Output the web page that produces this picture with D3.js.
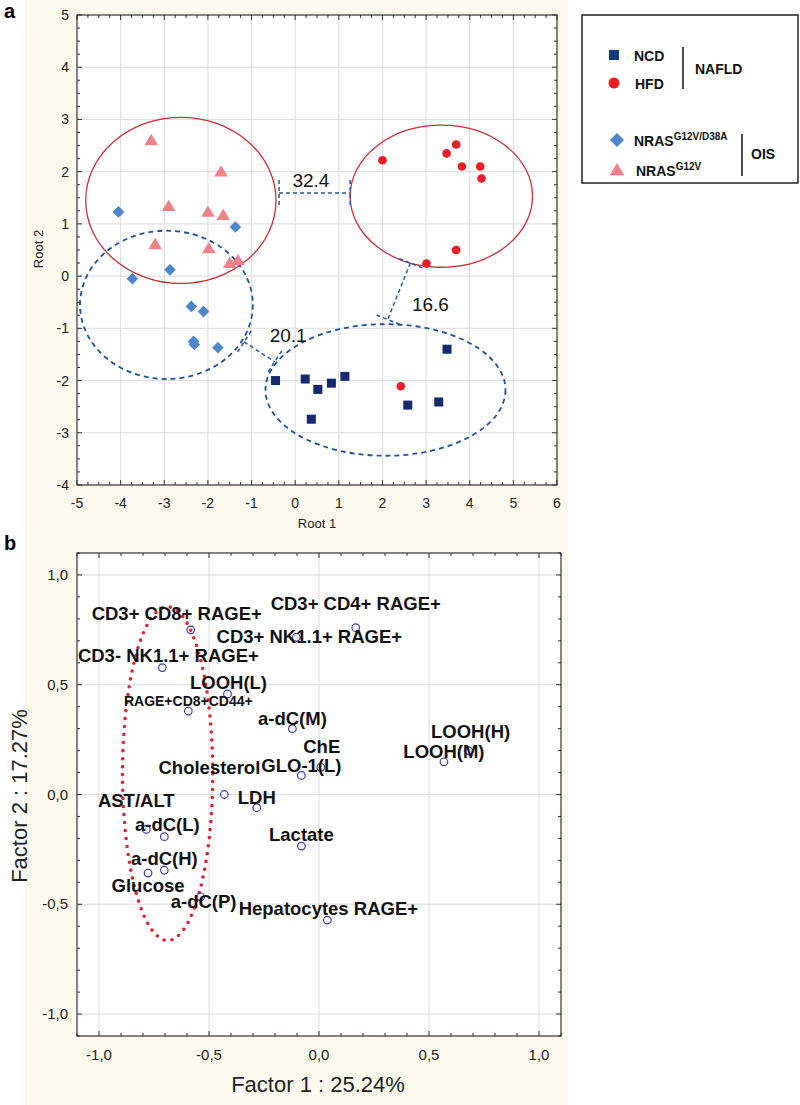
<!DOCTYPE html>
<html><head><meta charset="utf-8">
<script src="https://cdn.jsdelivr.net/npm/d3@7"></script>
<style>body{margin:0;background:#fff} svg{display:block} text{font-family:"Liberation Sans",Arial,sans-serif}</style>
</head><body><svg id="c" width="800" height="1105"></svg>
<script>
// ---------- Panel a data ----------
const ncdRoot1 = [-0.45, 0.23, 0.52, 0.83, 1.14, 0.37, 3.48, 2.58, 3.29];
const ncdRoot2 = [-2.00, -1.97, -2.17, -2.05, -1.92, -2.74, -1.40, -2.47, -2.41];
const hfdRoot1 = [2.00, 3.47, 3.69, 3.82, 4.24, 4.27, 3.69, 3.01, 2.42];
const hfdRoot2 = [2.22, 2.35, 2.52, 2.10, 2.10, 1.87, 0.50, 0.24, -2.11];
const d38aRoot1 = [-4.05, -1.37, -2.87, -3.73, -2.38, -2.10, -2.33, -2.31, -1.77];
const d38aRoot2 = [1.23, 0.94, 0.12, -0.05, -0.58, -0.68, -1.25, -1.31, -1.37];
const g12vRoot1 = [-3.30, -1.70, -2.90, -2.00, -1.65, -3.21, -1.98, -1.50, -1.31];
const g12vRoot2 = [2.60, 2.00, 1.34, 1.23, 1.17, 0.61, 0.53, 0.25, 0.30];

const ellipseGroups = ["NRAS G12V", "HFD", "NRAS G12V/D38A", "NCD"];
const ellipseCx = [-2.62, 3.35, -2.95, 2.07];
const ellipseCy = [1.45, 1.53, -0.55, -2.18];
const ellipseRx = [2.18, 2.09, 1.98, 2.75];
const ellipseRy = [1.59, 1.36, 1.42, 1.26];

const distLabels = ["32.4", "20.1", "16.6"];
const distFrom = [[-0.37, 1.59], [-1.17, -1.26], [2.64, 0.25]];
const distTo = [[1.26, 1.59], [-0.47, -1.64], [2.12, -0.83]];
const distLabelAt = [[0.36, 1.71], [-0.16, -1.27], [3.10, -0.66]];

const aTicksX = [-5, -4, -3, -2, -1, 0, 1, 2, 3, 4, 5, 6];
const aTicksY = [-4, -3, -2, -1, 0, 1, 2, 3, 4, 5];

// ---------- Panel b data ----------
const varNames = ["CD3+ CD8+ RAGE+", "CD3+ CD4+ RAGE+", "CD3+ NK1.1+ RAGE+", "CD3- NK1.1+ RAGE+", "LOOH(L)", "RAGE+CD8+CD44+", "a-dC(M)", "LOOH(H)", "LOOH(M)", "ChE", "Cholesterol", "GLO-1(L)", "LDH", "AST/ALT", "a-dC(L)", "Lactate", "a-dC(H)", "Glucose", "a-dC(P)", "Hepatocytes RAGE+"];
const factor1 = [-0.583, 0.167, -0.103, -0.712, -0.416, -0.594, -0.121, 0.680, 0.568, 0.008, -0.430, -0.080, -0.283, -0.785, -0.703, -0.080, -0.703, -0.777, -0.538, 0.038];
const factor2 = [0.750, 0.760, 0.716, 0.578, 0.458, 0.380, 0.300, 0.200, 0.149, 0.124, 0.000, 0.087, -0.060, -0.159, -0.192, -0.235, -0.345, -0.358, -0.466, -0.572];
const bTicks = [-1, -0.5, 0, 0.5, 1];
const bTickLabels = ["-1,0", "-0,5", "0,0", "0,5", "1,0"];
const clusterEllipse = {cx: -0.688, cy: 0.095, rx: 0.205, ry: 0.76};

// label layout (pixel offsets from each point: dx, dy of text centre / baseline)
const labelOffsets = [[-14, -10], [0, -18], [13, 6], [6, -6], [1, -5], [0, -5], [0, -4], [2, -13], [0, -4], [1, -14], [-15, -21], [0, -3], [0, -4], [-10, -22], [3, -6], [0, -5], [0, -5], [0, 19], [3, 11], [1, -5]];

const svg = d3.select("#c");
svg.append("rect").attr("x", 25).attr("y", 0).attr("width", 543).attr("height", 1105).attr("fill", "#fdf9ee");

// ================= PANEL A =================
const ax = d3.scaleLinear().domain([-5, 6]).range([77, 557]);
const ay = d3.scaleLinear().domain([-4, 5]).range([485, 15]);
const ga = svg.append("g");
ga.append("rect").attr("x", ax(-5)).attr("y", ay(5)).attr("width", ax(6) - ax(-5)).attr("height", ay(-4) - ay(5)).attr("fill", "#fff");
ga.selectAll(".gx").data(aTicksX.slice(1, -1)).enter().append("line")
  .attr("x1", d => ax(d)).attr("x2", d => ax(d)).attr("y1", ay(5)).attr("y2", ay(-4))
  .attr("stroke", "#dcdcdc").attr("stroke-width", 1);
ga.selectAll(".gy").data(aTicksY.slice(1, -1)).enter().append("line")
  .attr("y1", d => ay(d)).attr("y2", d => ay(d)).attr("x1", ax(-5)).attr("x2", ax(6))
  .attr("stroke", "#dcdcdc").attr("stroke-width", 1);

function frameTicks(g, xs, ys, xMajor, yMajor, xStep, yStep) {
  const [x0, x1] = xs.domain(), [y0, y1] = ys.domain();
  const mx = d3.range(Math.round((x1 - x0) / xStep) + 1).map(i => x0 + i * xStep);
  const my = d3.range(Math.round((y1 - y0) / yStep) + 1).map(i => y0 + i * yStep);
  const isMajor = (v, arr) => arr.some(a => Math.abs(a - v) < 1e-6);
  mx.forEach(v => {
    const L = isMajor(v, xMajor) ? 5 : 3;
    g.append("line").attr("x1", xs(v)).attr("x2", xs(v)).attr("y1", ys(y0)).attr("y2", ys(y0) - L).attr("stroke", "#333");
    g.append("line").attr("x1", xs(v)).attr("x2", xs(v)).attr("y1", ys(y1)).attr("y2", ys(y1) + L).attr("stroke", "#333");
  });
  my.forEach(v => {
    const L = isMajor(v, yMajor) ? 5 : 3;
    g.append("line").attr("y1", ys(v)).attr("y2", ys(v)).attr("x1", xs(x0)).attr("x2", xs(x0) + L).attr("stroke", "#333");
    g.append("line").attr("y1", ys(v)).attr("y2", ys(v)).attr("x1", xs(x1)).attr("x2", xs(x1) - L).attr("stroke", "#333");
  });
  g.append("rect").attr("x", xs(x0)).attr("y", ys(y1)).attr("width", xs(x1) - xs(x0)).attr("height", ys(y0) - ys(y1))
    .attr("fill", "none").attr("stroke", "#333").attr("stroke-width", 1.2);
}

const ellStyle = [
  {stroke: "#cc2f35", dash: null, w: 1.3},
  {stroke: "#cc2f35", dash: null, w: 1.3},
  {stroke: "#1f4e9c", dash: "5,4", w: 1.8},
  {stroke: "#1f4e9c", dash: "5,4", w: 1.8}
];
ellipseGroups.forEach((g, i) => {
  ga.append("ellipse")
    .attr("cx", ax(ellipseCx[i])).attr("cy", ay(ellipseCy[i]))
    .attr("rx", ax(ellipseCx[i] + ellipseRx[i]) - ax(ellipseCx[i]))
    .attr("ry", ay(ellipseCy[i]) - ay(ellipseCy[i] + ellipseRy[i]))
    .attr("fill", "none").attr("stroke", ellStyle[i].stroke).attr("stroke-width", ellStyle[i].w)
    .attr("stroke-dasharray", ellStyle[i].dash);
});

distLabels.forEach((lab, i) => {
  const p1 = [ax(distFrom[i][0]), ay(distFrom[i][1])];
  const p2 = [ax(distTo[i][0]), ay(distTo[i][1])];
  const dx = p2[0] - p1[0], dy = p2[1] - p1[1], len = Math.hypot(dx, dy);
  const nx = -dy / len, ny = dx / len, c = 13;
  const st = {stroke: "#2a55a3", "stroke-width": 1.5, "stroke-dasharray": "4,3", fill: "none"};
  [[p1, p2], [[p1[0] - nx * c, p1[1] - ny * c], [p1[0] + nx * c, p1[1] + ny * c]], [[p2[0] - nx * c, p2[1] - ny * c], [p2[0] + nx * c, p2[1] + ny * c]]]
    .forEach(seg => {
      const l = ga.append("line").attr("x1", seg[0][0]).attr("y1", seg[0][1]).attr("x2", seg[1][0]).attr("y2", seg[1][1]);
      Object.entries(st).forEach(([k, v]) => l.attr(k, v));
    });
  ga.append("text").attr("x", ax(distLabelAt[i][0])).attr("y", ay(distLabelAt[i][1]))
    .attr("text-anchor", "middle").attr("font-size", 19).attr("fill", "#111").text(lab);
});

const sq = 9;
ga.selectAll(".ncd").data(ncdRoot1).enter().append("rect")
  .attr("x", d => ax(d) - sq / 2).attr("y", (d, i) => ay(ncdRoot2[i]) - sq / 2)
  .attr("width", sq).attr("height", sq).attr("fill", "#152a6e");
ga.selectAll(".hfd").data(hfdRoot1).enter().append("circle")
  .attr("cx", d => ax(d)).attr("cy", (d, i) => ay(hfdRoot2[i])).attr("r", 4.3).attr("fill", "#ea1c24");
const diamond = (cx, cy, r) => `M${cx},${cy - r}L${cx + r},${cy}L${cx},${cy + r}L${cx - r},${cy}Z`;
const tri = (cx, cy, r) => `M${cx},${cy - r}L${cx + r * 1.05},${cy + r * 0.75}L${cx - r * 1.05},${cy + r * 0.75}Z`;
ga.selectAll(".d38").data(d38aRoot1).enter().append("path")
  .attr("d", (d, i) => diamond(ax(d), ay(d38aRoot2[i]), 5.8)).attr("fill", "#4d87c9");
ga.selectAll(".g12").data(g12vRoot1).enter().append("path")
  .attr("d", (d, i) => tri(ax(d), ay(g12vRoot2[i]), 6.5)).attr("fill", "#f2818a");

frameTicks(ga, ax, ay, aTicksX, aTicksY, 0.25, 0.25);

ga.selectAll(".xl").data(aTicksX).enter().append("text")
  .attr("x", d => ax(d)).attr("y", 508).attr("text-anchor", "middle").attr("font-size", 14).attr("fill", "#222").text(d => d);
ga.selectAll(".yl").data(aTicksY).enter().append("text")
  .attr("x", 69).attr("y", d => ay(d) + 5).attr("text-anchor", "end").attr("font-size", 14).attr("fill", "#222").text(d => d);
ga.append("text").attr("x", 317).attr("y", 528).attr("text-anchor", "middle").attr("font-size", 13).attr("fill", "#222").text("Root 1");
ga.append("text").attr("transform", "translate(43,249) rotate(-90)").attr("text-anchor", "middle").attr("font-size", 13).attr("fill", "#222").text("Root 2");
svg.append("text").attr("x", 4).attr("y", 18).attr("font-size", 20).attr("font-weight", "bold").text("a");

// legend
const lg = svg.append("g");
lg.append("rect").attr("x", 582).attr("y", 15).attr("width", 216).attr("height", 168).attr("fill", "#fff").attr("stroke", "#222").attr("stroke-width", 1.5);
lg.append("rect").attr("x", 609).attr("y", 50).attr("width", 10).attr("height", 10).attr("fill", "#153a7a");
lg.append("circle").attr("cx", 614).attr("cy", 83).attr("r", 5.5).attr("fill", "#ea1c24");
lg.append("path").attr("d", diamond(617, 140, 7)).attr("fill", "#4d87c9");
lg.append("path").attr("d", tri(617, 170, 7)).attr("fill", "#f2818a");
const lt = (x, y, t) => lg.append("text").attr("x", x).attr("y", y).attr("font-size", 14).attr("font-weight", "bold").attr("fill", "#111").text(t);
lt(634, 61, "NCD");
lt(635, 89, "HFD");
lt(695, 74, "NAFLD");
lt(751, 159, "OIS");
const n1 = lt(634, 146, "NRAS");
n1.append("tspan").attr("font-size", 10).attr("dy", -6).text("G12V/D38A");
const n2 = lt(636, 176, "NRAS");
n2.append("tspan").attr("font-size", 10).attr("dy", -6).text("G12V");
lg.append("line").attr("x1", 683).attr("x2", 683).attr("y1", 47).attr("y2", 89).attr("stroke", "#111").attr("stroke-width", 1.5);
lg.append("line").attr("x1", 742).attr("x2", 742).attr("y1", 134).attr("y2", 176).attr("stroke", "#111").attr("stroke-width", 1.5);

// ================= PANEL B =================
const bx = d3.scaleLinear().domain([-1.1, 1.1]).range([77, 561]);
const by = d3.scaleLinear().domain([-1.1, 1.1]).range([1036, 553]);
const gb = svg.append("g");
gb.append("rect").attr("x", bx(-1.1)).attr("y", by(1.1)).attr("width", bx(1.1) - bx(-1.1)).attr("height", by(-1.1) - by(1.1)).attr("fill", "#fff");
gb.selectAll(".gx").data(bTicks).enter().append("line")
  .attr("x1", d => bx(d)).attr("x2", d => bx(d)).attr("y1", by(1.1)).attr("y2", by(-1.1)).attr("stroke", "#dcdcdc");
gb.selectAll(".gy").data(bTicks).enter().append("line")
  .attr("y1", d => by(d)).attr("y2", d => by(d)).attr("x1", bx(-1.1)).attr("x2", bx(1.1)).attr("stroke", "#dcdcdc");

gb.append("ellipse").attr("cx", bx(clusterEllipse.cx)).attr("cy", by(clusterEllipse.cy))
  .attr("rx", bx(clusterEllipse.cx + clusterEllipse.rx) - bx(clusterEllipse.cx))
  .attr("ry", by(clusterEllipse.cy) - by(clusterEllipse.cy + clusterEllipse.ry))
  .attr("fill", "none").attr("stroke", "#e3202b").attr("stroke-width", 3.6)
  .attr("stroke-dasharray", "0,8").attr("stroke-linecap", "round");

gb.selectAll(".pt").data(factor1).enter().append("circle")
  .attr("cx", d => bx(d)).attr("cy", (d, i) => by(factor2[i])).attr("r", 3.8)
  .attr("fill", "none").attr("stroke", "#3a3ab0").attr("stroke-width", 1.2);

gb.selectAll(".lab").data(varNames).enter().append("text")
  .attr("x", (d, i) => bx(factor1[i]) + labelOffsets[i][0])
  .attr("y", (d, i) => by(factor2[i]) + labelOffsets[i][1])
  .attr("text-anchor", "middle").attr("font-weight", "bold")
  .attr("font-size", d => d === "RAGE+CD8+CD44+" ? 14 : 18.5).attr("fill", "#111").text(d => d);

frameTicks(gb, bx, by, bTicks, bTicks, 0.1, 0.1);

gb.selectAll(".xl").data(bTicks).enter().append("text")
  .attr("x", d => bx(d)).attr("y", 1060).attr("text-anchor", "middle").attr("font-size", 15).attr("fill", "#222")
  .text((d, i) => bTickLabels[i]);
gb.selectAll(".yl").data(bTicks).enter().append("text")
  .attr("x", 68).attr("y", d => by(d) + 5).attr("text-anchor", "end").attr("font-size", 15).attr("fill", "#222")
  .text((d, i) => bTickLabels[i]);
gb.append("text").attr("x", 318).attr("y", 1092).attr("text-anchor", "middle").attr("font-size", 22).attr("fill", "#222").text("Factor 1 : 25.24%");
gb.append("text").attr("transform", "translate(27,796) rotate(-90)").attr("text-anchor", "middle").attr("font-size", 22).attr("fill", "#222").text("Factor 2 : 17.27%");
svg.append("text").attr("x", 4).attr("y", 550).attr("font-size", 20).attr("font-weight", "bold").text("b");
</script></body></html>
